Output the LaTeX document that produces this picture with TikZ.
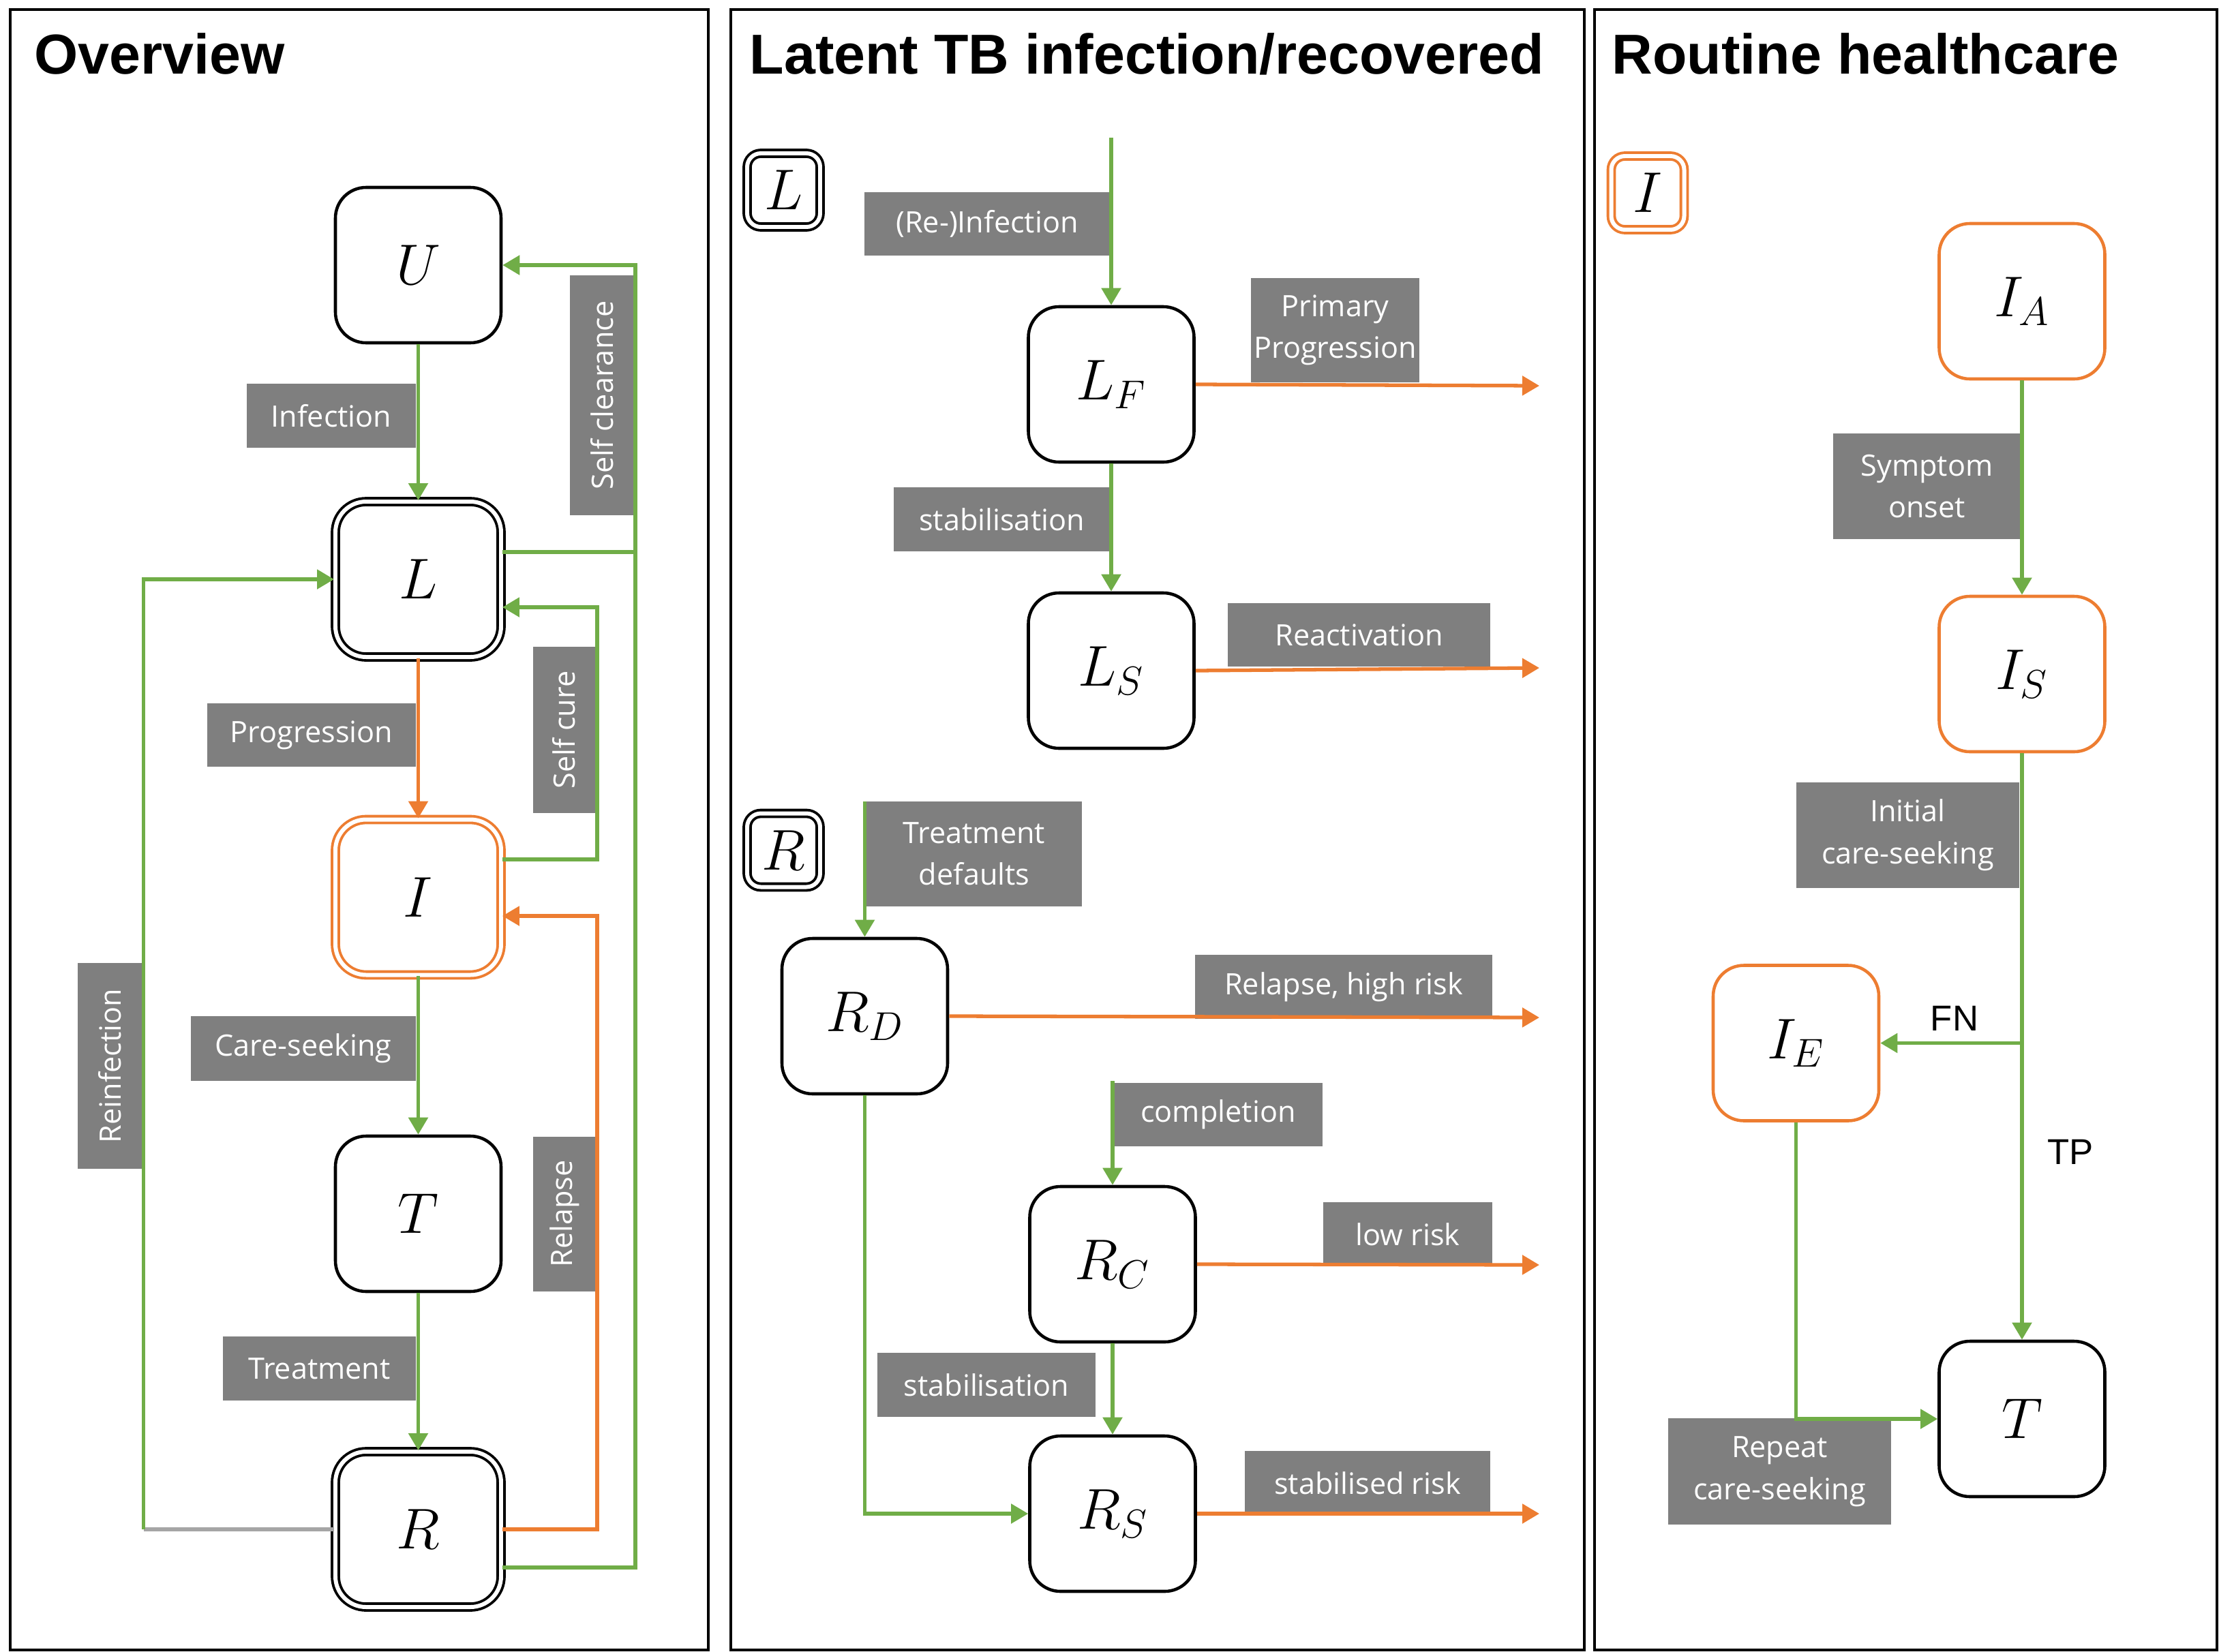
\RequirePackage{fix-cm}
\documentclass[tikz,border=0pt]{standalone}
\usepackage{fontspec}
\usepackage{tikz}
\usetikzlibrary{arrows.meta}

\newfontfamily\labelfont{Open Sans}
\newfontfamily\headfont{Liberation Sans}

\definecolor{tbgreen}{HTML}{70AD47}
\definecolor{tborange}{HTML}{ED7D31}
\definecolor{tbgray}{HTML}{7F7F7F}
\definecolor{tblight}{HTML}{A5A5A5}

\tikzset{
  panel/.style={draw, line width=1.4pt},
  head/.style={anchor=base west, inner sep=0pt, font=\headfont\bfseries\fontsize{23.5}{28}\selectfont},
  state/.style={draw, line width=1.3pt, rounded corners=0.45cm, fill=white,
                minimum width=2.43cm, minimum height=2.28cm, font=\fontsize{24}{28}\selectfont},
  dstate/.style={state, double, double distance=1.7pt, line width=1.1pt},
  istate/.style={state, draw=tborange},
  distate/.style={dstate, draw=tborange},
  key/.style={minimum width=1.07cm, minimum height=1.08cm, rounded corners=0.2cm},
  rate/.style={fill=tbgray, text=white, align=center, inner sep=0pt,
               font=\labelfont\fontsize{12.3}{17.5}\selectfont},
  testlbl/.style={inner sep=0pt, font=\headfont\fontsize{15}{18}\selectfont},
  gline/.style={draw=tbgreen, line width=1.5pt},
  garr/.style={gline, -{Triangle[length=0.25cm,width=0.28cm]}},
  oarr/.style={draw=tborange, line width=1.5pt, -{Triangle[length=0.25cm,width=0.28cm]}},
}

\begin{document}
\begin{tikzpicture}
   \useasboundingbox (0,0) rectangle (32.55,-24.24);
   \begin{scope}
    \draw[panel] (0.15,-0.14) rectangle (10.39,-24.21);
    \node[head] (t1) at (0.50,-1.08) {Overview};
    \node[state] (U) at (6.135,-3.89) {$U$};
    \node[dstate] (L) at (6.135,-8.50) {$L$};
    \node[distate] (I) at (6.135,-13.165) {$I$};
    \node[state] (T) at (6.135,-17.81) {$T$};
    \node[dstate] (R) at (6.135,-22.44) {$R$};
    \node[rate, minimum width=2.48cm, minimum height=0.94cm] (infl) at (4.86,-6.10) {Infection};
    \node[rate, rotate=90, minimum width=3.52cm, minimum height=0.94cm] (scl) at (8.83,-5.80) {Self clearance};
    \node[rate, minimum width=3.06cm, minimum height=0.93cm] (prg) at (4.57,-10.785) {Progression};
    \node[rate, rotate=90, minimum width=2.44cm, minimum height=0.91cm] (scu) at (8.275,-10.71) {Self cure};
    \node[rate, rotate=90, minimum width=3.02cm, minimum height=0.94cm] (rinf) at (1.61,-15.64) {Reinfection};
    \node[rate, minimum width=3.30cm, minimum height=0.95cm] (csk) at (4.45,-15.385) {Care-seeking};
    \node[rate, rotate=90, minimum width=2.27cm, minimum height=0.93cm] (rel) at (8.28,-17.81) {Relapse};
    \node[rate, minimum width=2.83cm, minimum height=0.94cm] (trt) at (4.685,-20.08) {Treatment};
    \coordinate (clr) at (9.32,-3.89);
    \coordinate (cure) at (8.76,-8.91);
    \coordinate (back) at (8.76,-13.44);
    \coordinate (reinf) at (2.105,-22.44);
    \coordinate (Lclr) at ([yshift=0.40cm]L.east);
    \draw[garr] (U) -- (L);
    \draw[oarr] (L) -- (I);
    \draw[garr] (I) -- (T);
    \draw[garr] (T) -- (R);
    \draw[garr] ([yshift=-0.56cm]R.east) -| (clr) -- (U.east);
    \draw[gline] (Lclr) -- (Lclr -| clr);
    \draw[garr] ([yshift=0.555cm]I.east) -| (cure) -- (cure -| L.east);
    \draw[oarr] (R.east) -| (back) -- (back -| I.east);
    \draw[draw=tblight, line width=1.5pt] (R.west) -- (reinf);
    \draw[garr] (reinf) |- (L.west);
   \end{scope}
   \begin{scope}
    \draw[panel] (10.72,-0.14) rectangle (23.24,-24.21);
    \node[head] (t2) at (10.99,-1.08) {Latent TB infection/recovered};
    \node[dstate, key] (Lkey) at (11.495,-2.79) {$L$};
    \node[dstate, key] (Rkey) at (11.495,-12.475) {$R$};
    \node[state] (LF) at (16.30,-5.64) {$L_F$};
    \node[state] (LS) at (16.30,-9.84) {$L_S$};
    \node[state] (RD) at (12.685,-14.91) {$R_D$};
    \node[state] (RC) at (16.32,-18.55) {$R_C$};
    \node[state] (RS) at (16.32,-22.21) {$R_S$};
    \node[rate, minimum width=3.60cm, minimum height=0.93cm] (rinfl) at (14.48,-3.285) {(Re-)Infection};
    \node[rate, minimum width=2.47cm, minimum height=1.53cm] (ppr) at (19.585,-4.845) {Primary\\Progression};
    \node[rate, minimum width=3.17cm, minimum height=0.94cm] (stb1) at (14.695,-7.62) {stabilisation};
    \node[rate, minimum width=3.85cm, minimum height=0.93cm] (rea) at (19.935,-9.315) {Reactivation};
    \node[rate, minimum width=3.16cm, minimum height=1.54cm] (tdef) at (14.29,-12.53) {Treatment\\defaults};
    \node[rate, minimum width=4.36cm, minimum height=0.94cm] (rhr) at (19.71,-14.48) {Relapse, high risk};
    \node[rate, minimum width=3.06cm, minimum height=0.93cm] (cmp) at (17.87,-16.355) {completion};
    \node[rate, minimum width=2.48cm, minimum height=0.945cm] (lrk) at (20.65,-18.11) {low risk};
    \node[rate, minimum width=3.20cm, minimum height=0.945cm] (stb2) at (14.47,-20.32) {stabilisation};
    \node[rate, minimum width=3.60cm, minimum height=0.935cm] (srk) at (20.06,-21.76) {stabilised risk};
    \coordinate (inL) at (16.30,-2.02);
    \coordinate (inR) at (12.685,-11.76);
    \coordinate (inC) at (16.32,-15.86);
    \coordinate (outF) at (22.58,-5.66);
    \coordinate (outS) at (22.58,-9.80);
    \coordinate (outD) at (22.58,-14.93);
    \coordinate (outC) at (22.58,-18.56);
    \coordinate (outRS) at (22.58,-22.21);
    \draw[garr] (inL) -- (LF);
    \draw[garr] (LF) -- (LS);
    \draw[oarr] (LF.east) -- (outF);
    \draw[oarr] (LS.east) -- (outS);
    \draw[garr] (inR) -- (RD);
    \draw[oarr] (RD.east) -- (outD);
    \draw[garr] (inC) -- (RC);
    \draw[oarr] (RC.east) -- (outC);
    \draw[garr] (RC) -- (RS);
    \draw[oarr] (RS.east) -- (outRS);
    \draw[garr] (RD.south) |- (RS.west);
   \end{scope}
   \begin{scope}
    \draw[panel] (23.39,-0.14) rectangle (32.52,-24.21);
    \node[head] (t3) at (23.64,-1.08) {Routine healthcare};
    \node[distate, key] (Ikey) at (24.17,-2.83) {$I$};
    \node[istate] (IA) at (29.66,-4.42) {$I_A$};
    \node[istate] (IS) at (29.66,-9.89) {$I_S$};
    \node[istate] (IE) at (26.345,-15.305) {$I_E$};
    \node[state] (T3) at (29.66,-20.82) {$T$};
    \node[rate, minimum width=2.75cm, minimum height=1.55cm] (sym) at (28.265,-7.135) {Symptom\\onset};
    \node[rate, minimum width=3.27cm, minimum height=1.55cm] (ini) at (27.985,-12.255) {Initial\\care-seeking};
    \node[rate, minimum width=3.27cm, minimum height=1.56cm] (rep) at (26.105,-21.59) {Repeat\\care-seeking};
    \node[testlbl] (fnl) at (28.67,-14.94) {FN};
    \node[testlbl] (tpl) at (30.37,-16.90) {TP};
    \coordinate (fn) at (29.66,-15.305);
    \draw[garr] (IA) -- (IS);
    \draw[garr] (IS) -- (T3);
    \draw[garr] (fn) -- (IE.east);
    \draw[garr] (IE.south) |- (T3.west);
   \end{scope}
\end{tikzpicture}
\end{document}
